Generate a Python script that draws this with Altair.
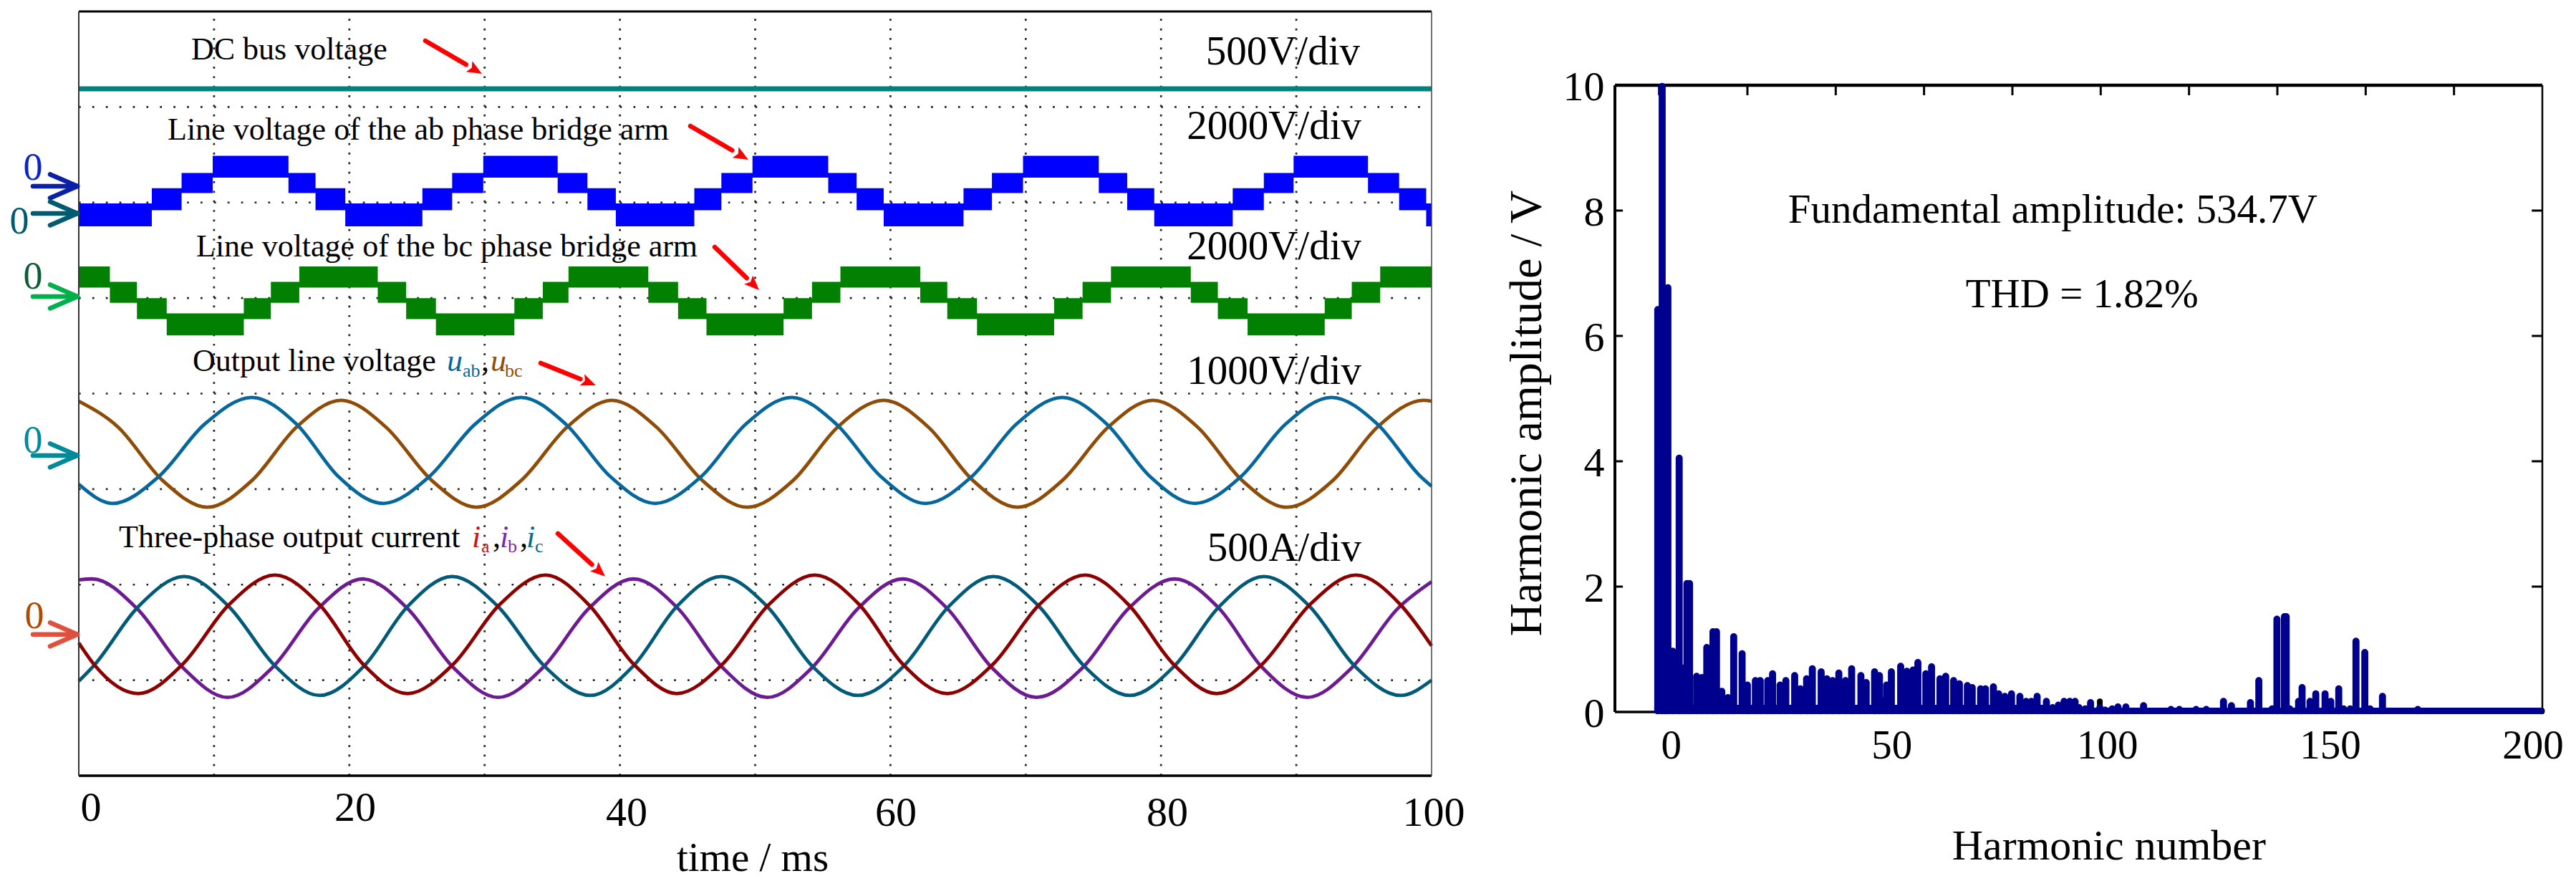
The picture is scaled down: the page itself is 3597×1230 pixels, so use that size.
import altair as alt
import pandas as pd

FONT = "Liberation Serif"

# ---------- left panel data: time in ms, vertical position in scope divisions ----------
ab_t = [0,5.4,7.6,9.9,15.5,17.5,19.7,25.4,27.6,29.9,35.4,37.6,39.7,45.5,47.5,49.8,55.4,57.5,59.5,65.4,67.5,69.8,75.4,77.5,79.5,85.3,87.6,89.8,95.3,97.6,99.6,100]
ab_level = [0,1,2,3,2,1,0,1,2,3,2,1,0,1,2,3,2,1,0,1,2,3,2,1,0,1,2,3,2,1,0,0]
ab_top = [5.99,6.15,6.31,6.49]
ab_bot = [5.75,5.92,6.10,6.26]

bc_t = [0,2.3,4.3,6.5,12.2,14.2,16.3,22.1,24.2,26.4,32.2,34.3,36.2,42.1,44.3,46.4,52.1,54.2,56.3,62.2,64.2,66.4,72.1,74.2,76.3,82.2,84.2,86.4,92.1,94.1,96.2,100]
bc_level = [3,2,1,0,1,2,3,2,1,0,1,2,3,2,1,0,1,2,3,2,1,0,1,2,3,2,1,0,1,2,3,3]
bc_top = [4.84,5.00,5.17,5.33]
bc_bot = [4.61,4.78,4.95,5.11]

dc_level = 7.19

uab_t = [0,2.5,5.9,9.3,12.8,16.1,19.2,22.5,25.9,29.3,32.7,36.0,39.3,42.6,46,49.3,52.7,56,59.3,62.6,66,69.3,72.7,76,79.2,82.5,85.9,89.2,92.6,96,99.2,100]
uab_y = [3.05,2.85,3.13,3.68,3.96,3.68,3.13,2.85,3.13,3.68,3.96,3.68,3.13,2.85,3.13,3.68,3.96,3.68,3.13,2.85,3.13,3.68,3.96,3.68,3.13,2.85,3.13,3.68,3.96,3.68,3.13,3.03]

ubc_t = [0,2.9,6.2,9.5,12.8,16.1,19.4,22.7,26.1,29.4,32.7,36.1,39.4,42.7,46.1,49.4,52.8,56.1,59.5,62.8,66.1,69.4,72.7,76.1,79.4,82.7,86,89.3,92.7,96,99.4,100]
ubc_y = [3.92,3.65,3.09,2.81,3.09,3.65,3.93,3.65,3.09,2.81,3.09,3.65,3.93,3.65,3.09,2.81,3.09,3.65,3.93,3.65,3.09,2.81,3.09,3.65,3.93,3.65,3.09,2.81,3.09,3.65,3.93,3.92]

ia_t = [0,1.1,4.4,7.7,11.1,14.5,17.8,21,24.3,27.7,31.1,34.5,37.7,41,44.2,47.6,51,54.4,57.7,60.9,64.2,67.6,71,74.4,77.6,80.9,84.1,87.5,91,94.4,97.7,100]
ia_y = [1.39,1.17,.86,1.17,1.79,2.10,1.79,1.17,.86,1.17,1.79,2.10,1.79,1.17,.86,1.17,1.79,2.10,1.79,1.17,.86,1.17,1.79,2.10,1.79,1.17,.86,1.17,1.79,2.10,1.79,1.36]

ib_t = [0,1,4.3,7.7,11,14.3,17.7,21,24.3,27.7,31,34.3,37.7,41,44.3,47.6,50.9,54.2,57.6,60.9,64.2,67.5,70.8,74.2,77.6,81,84.3,87.5,90.8,94.1,97.5,100]
ib_y = [2.05,2.06,1.75,1.13,.82,1.13,1.75,2.06,1.75,1.13,.82,1.13,1.75,2.06,1.75,1.13,.82,1.13,1.75,2.06,1.75,1.13,.82,1.13,1.75,2.06,1.75,1.13,.82,1.13,1.75,2.03]

ic_t = [0,1.1,4.4,7.8,11.1,14.5,17.8,21.1,24.3,27.6,31,34.4,37.8,41,44.2,47.5,50.9,54.2,57.6,61,64.3,67.6,71,74.3,77.7,81,84.3,87.6,91,94.3,97.7,100]
ic_y = [.99,1.15,1.77,2.085,1.77,1.15,.84,1.15,1.77,2.085,1.77,1.15,.84,1.15,1.77,2.085,1.77,1.15,.84,1.15,1.77,2.085,1.77,1.15,.84,1.15,1.77,2.085,1.77,1.15,.84,1.0]

time_labels = ["0","20","40","60","80","100"]
time_label_px = [128,497,876,1252,1631,2003]
time_label_base = [1146,1146,1153,1153,1153,1153]

# ---------- right panel data: harmonic number and amplitude in volts ----------
h_pos = [-0.3,0.7,1.4,2.0,3.1,4.55,5.5,6.3,6.9,8.5,9.7,10.8,12.2,13.0,14.2,15.6,16.9,18.8,20,21.8,22.9,24.6,25.7,27.4,28.7,30.7,32.0,33.4,34.7,36.7,38.0,39.3,40.7,42.2,43.6,45.7,46.9,48.8,49.9,51.5,52.6,54.7,56.1,57.5,58.6,60.4,61.7,63.6,64.9,66.7,68.0,69.8,70.9,72.8,73.9,75.7,76.9,78.3,79.8,81.7,83.1,84.3,85.6,87.7,89.1,90.4,91.7,93.0,94.2,95.1,96.5,97.7,99.8,101.0,102.6,103.9,105.7,109.7,115.9,117.8,121.6,123.9,127.8,129.6,133.9,135.8,138.8,139.9,141.6,142.0,142.8,144.8,145.6,147.4,148.7,150.8,152.1,153.9,155.0,156.5,157.8,159.8,161.0,163.8,171.8]
h_amp = [6.47,10.03,6.5,6.82,1.02,4.1,0.75,2.1,2.1,0.62,0.6,1.08,1.33,1.33,0.38,0.28,1.25,0.98,0.48,0.55,0.55,0.55,0.66,0.48,0.55,0.63,0.42,0.58,0.74,0.69,0.58,0.55,0.67,0.55,0.74,0.63,0.52,0.69,0.63,0.48,0.69,0.78,0.70,0.72,0.84,0.66,0.77,0.58,0.62,0.55,0.50,0.47,0.44,0.42,0.42,0.45,0.34,0.3,0.34,0.3,0.22,0.22,0.3,0.22,0.12,0.16,0.22,0.22,0.22,0.12,0.1,0.2,0.12,0.08,0.1,0.13,0.13,0.15,0.09,0.09,0.09,0.09,0.22,0.15,0.2,0.55,0.1,1.53,1.57,1.57,0.1,0.22,0.44,0.22,0.34,0.34,0.22,0.42,0.1,0.1,1.18,1.0,0.1,0.3,0.09]
black_pos = [50.7,99.8,199.9]
black_amp = [0.24,0.22,0.06]
h_labels = ["0","50","100","150","200"]
h_label_px = [2334,2642,2943,3254,3537]

# ---------- reference-pixel to data-unit conversion for annotations ----------
def ms(px): return (px - 111) / 18.89
def dv(py): return 8 - (py - 16) / 133.4
def hn(px): return (px - 2317) / 6.165
def vv(py): return (994 - py) / 87.5

sx = alt.Scale(domain=[0,100], nice=False, zero=False)
sy = alt.Scale(domain=[0,8], nice=False, zero=False)
X = lambda f="x": alt.X(f"{f}:Q", scale=sx, axis=None)
Y = lambda f="y": alt.Y(f"{f}:Q", scale=sy, axis=None)

def ltxt(rows, size, align="left", style="normal"):
    df = pd.DataFrame(rows, columns=["s","px","py","c"])
    df["x"] = df.px.map(ms); df["y"] = df.py.map(dv)
    return alt.Chart(df).mark_text(font=FONT, fontSize=size, align=align, baseline="alphabetic", fontStyle=style).encode(
        x=X(), y=Y(), text="s:N", color=alt.Color("c:N", scale=None))

def wave(t, y, col):
    return alt.Chart(pd.DataFrame({"x":t,"y":y})).mark_line(color=col, strokeWidth=4.8, interpolate="monotone").encode(x=X(), y=Y())

def band(t, lev, top, bot, col):
    df = pd.DataFrame({"x":t,"y":[top[i] for i in lev],"y2":[bot[i] for i in lev]})
    return alt.Chart(df).mark_area(color=col, interpolate="step-after", opacity=1).encode(x=X(), y=Y(), y2="y2:Q")

# grid
grid_h = alt.Chart(pd.DataFrame({"y":[1,2,3,4,5,6,7],"x":[0]*7,"x2":[100]*7})).mark_rule(
    color="#222", strokeWidth=2.7, strokeDash=[2.7,16.19]).encode(x=X(), x2="x2:Q", y=Y())
grid_v = alt.Chart(pd.DataFrame({"x":[10,20,30,40,50,60,70,80,90],"y":[8]*9,"y2":[0]*9})).mark_rule(
    color="#222", strokeWidth=2.7, strokeDash=[2.7,10.64], strokeDashOffset=3).encode(x=X(), y=Y(), y2="y2:Q")

# frame
def hline(y, col, w):
    return alt.Chart(pd.DataFrame({"x":[0],"x2":[100],"y":[y]})).mark_rule(color=col, strokeWidth=w).encode(x=X(), x2="x2:Q", y=Y())
def vline(x, col, w):
    return alt.Chart(pd.DataFrame({"x":[x],"y":[0],"y2":[8]})).mark_rule(color=col, strokeWidth=w).encode(x=X(), y=Y(), y2="y2:Q")

dc = alt.Chart(pd.DataFrame({"x":[0],"x2":[100],"y":[dc_level]})).mark_rule(color="#008080", strokeWidth=7).encode(x=X(), x2="x2:Q", y=Y())

# side arrows
arrow_tip_y = [260,298,414,636,886]
arrow_cols = ["#0a20a8","#005a70","#00b04a","#008a9a","#e0503f"]
seg = []
for ty, c in zip(arrow_tip_y, arrow_cols):
    seg += [(ms(47),ms(109),dv(ty),dv(ty),c),(ms(71),ms(109),dv(ty-16.5),dv(ty),c),(ms(71),ms(109),dv(ty+16.5),dv(ty),c)]
side_arrows = alt.Chart(pd.DataFrame(seg, columns=["x","x2","y","y2","c"])).mark_rule(strokeWidth=6.5, strokeCap="round").encode(
    x=X(), x2="x2:Q", y=Y(), y2="y2:Q", color=alt.Color("c:N", scale=None))

# red arrows
red_tail = [(595,57),(965,176),(999,345),(756,507),(780,745)]
red_tip = [(674,103),(1046,223),(1061,405),(833,538),(846,805)]
red_angle = [120,120,134,112,132]
rows = [(ms(a[0]),ms(a[0]+0.72*(b[0]-a[0])),dv(a[1]),dv(a[1]+0.72*(b[1]-a[1]))) for a,b in zip(red_tail,red_tip)]
red_shaft = alt.Chart(pd.DataFrame(rows, columns=["x","x2","y","y2"])).mark_rule(color="#ff0000", strokeWidth=6.5, strokeCap="round").encode(
    x=X(), x2="x2:Q", y=Y(), y2="y2:Q")
red_head = alt.Chart(pd.DataFrame({"x":[ms(b[0]) for b in red_tip],"y":[dv(b[1]) for b in red_tip],"a":red_angle})).mark_point(
    shape="M0,0L-0.42,1L0,0.8L0.42,1Z", filled=True, color="#ff0000", opacity=1, size=1700).encode(
    x=X(), y=Y(), angle=alt.Angle("a:Q", scale=None))

left = alt.layer(
    grid_h, grid_v, dc,
    band(ab_t, ab_level, ab_top, ab_bot, "#0000ff"),
    band(bc_t, bc_level, bc_top, bc_bot, "#018001"),
    wave(ubc_t, ubc_y, "#8f4c06"), wave(uab_t, uab_y, "#05679c"),
    wave(ib_t, ib_y, "#6c1c90"), wave(ic_t, ic_y, "#005a78"), wave(ia_t, ia_y, "#8c0000"),
    hline(8,"#000",3), hline(0,"#000",3.5), vline(0,"#333",2), vline(100,"#444",1.5),
    side_arrows, red_shaft, red_head,
    ltxt([("DC bus voltage",268,83,"#000"),("Line voltage of the ab phase bridge arm",235,195,"#000"),
          ("Line voltage of the bc phase bridge arm",275,358,"#000"),("Output line voltage",270,518,"#000"),
          ("Three-phase output current",167,764,"#000"),(",",673,518,"#000"),(",",689,764,"#000"),(",",727,764,"#000")],44),
    ltxt([("u",625,518,"#05679c"),("u",686,518,"#8f4c06"),("i",660,764,"#d01010"),("i",699,764,"#7a28b0"),("i",736,764,"#007090")],44,style="italic"),
    ltxt([("ab",647,526,"#05679c"),("bc",706,526,"#8f4c06"),("a",673,771,"#d01010"),("b",710,771,"#7a28b0"),("c",748,771,"#007090")],26),
    ltxt([("500V/div",1900,90,"#000"),("2000V/div",1902,194,"#000"),("2000V/div",1902,362,"#000"),("1000V/div",1902,536,"#000"),("500A/div",1902,783,"#000")],57,align="right"),
    ltxt([(s,p,b,"#000") for s,p,b in zip(time_labels,time_label_px,time_label_base)],58,align="center"),
    ltxt([("time  / ms",1052,1216,"#000")],57,align="center"),
    ltxt([("0",47,251,"#0a22d0"),("0",28,326,"#005a70"),("0",47,403,"#0b5e36"),("0",47,632,"#008a9e"),("0",49,877,"#b04a00")],54,align="center"),
).properties(width=1889, height=1067)

# ---------- right panel ----------
rx = alt.Scale(domain=[-10,200], nice=False, zero=False)
ry = alt.Scale(domain=[vv(1083), vv(16)], nice=False, zero=False)
yaxis = alt.Axis(values=[0,2,4,6,8,10], title=None, tickSize=0, domain=False, grid=False,
                 labelFont=FONT, labelFontSize=58, labelColor="#000", labelPadding=15, labelOffset=3,
                 labelOverlap=False, labelBound=False, labelFlush=False)
RX = lambda f="x": alt.X(f"{f}:Q", scale=rx, axis=None)
RY = lambda f="y": alt.Y(f"{f}:Q", scale=ry, axis=yaxis)
CAP = 0.05
BLUE = "#00008f"

def rtxt(rows, size, align="left", angle=0):
    df = pd.DataFrame(rows, columns=["s","px","py"])
    df["x"] = df.px.map(hn); df["y"] = df.py.map(vv)
    return alt.Chart(df).mark_text(font=FONT, fontSize=size, align=align, baseline="alphabetic", angle=angle, color="#000").encode(
        x=RX(), y=RY(), text="s:N")

left_frame = alt.Chart(pd.DataFrame({"x":[-10],"y":[0],"y2":[10]})).mark_rule(color="#000", strokeWidth=4).encode(x=RX(), y=RY(), y2="y2:Q")
right_frame = alt.Chart(pd.DataFrame({"x":[200],"y":[0],"y2":[10]})).mark_rule(color="#000", strokeWidth=2.5).encode(x=RX(), y=RY(), y2="y2:Q")
top_frame = alt.Chart(pd.DataFrame({"x":[-10],"x2":[200],"y":[10]})).mark_rule(color="#000", strokeWidth=4.5).encode(x=RX(), x2="x2:Q", y=RY())
bot_frame = alt.Chart(pd.DataFrame({"x":[-10],"x2":[200],"y":[0]})).mark_rule(color="#000", strokeWidth=3.5).encode(x=RX(), x2="x2:Q", y=RY())
top_ticks = alt.Chart(pd.DataFrame({"x":list(range(0,200,20)),"y":[10]*10,"y2":[9.84]*10})).mark_rule(color="#000", strokeWidth=3).encode(x=RX(), y=RY(), y2="y2:Q")
ltick = alt.Chart(pd.DataFrame({"x":[-10]*4,"x2":[-8.2]*4,"y":[2,4,6,8]})).mark_rule(color="#000", strokeWidth=3).encode(x=RX(), x2="x2:Q", y=RY())
rtick = alt.Chart(pd.DataFrame({"x":[197.6]*4,"x2":[200]*4,"y":[2,4,6,8]})).mark_rule(color="#000", strokeWidth=3).encode(x=RX(), x2="x2:Q", y=RY())

black = alt.Chart(pd.DataFrame({"x":black_pos,"y":[a-CAP for a in black_amp],"y2":[0.02]*3})).mark_rule(color="#000", strokeWidth=8, strokeCap="round").encode(x=RX(), y=RY(), y2="y2:Q")
stems = alt.Chart(pd.DataFrame({"x":h_pos,"y":[a-CAP for a in h_amp],"y2":[0.02]*len(h_pos)})).mark_rule(color=BLUE, strokeWidth=9.8, strokeCap="round").encode(x=RX(), y=RY(), y2="y2:Q")
floor = alt.Chart(pd.DataFrame({"x":[-0.4,-0.4],"x2":[199.5,87],"y":[0.017,0.063]})).mark_rule(color=BLUE, strokeWidth=9, strokeCap="round").encode(x=RX(), x2="x2:Q", y=RY())

right = alt.layer(
    left_frame, top_frame, bot_frame, right_frame, top_ticks, ltick, rtick, black, floor, stems,
    rtxt([("Fundamental amplitude: 534.7V",2497,311),("THD = 1.82%",2745,429)],57),
    rtxt([(s,p,1059) for s,p in zip(h_labels,h_label_px)],57,align="center"),
    rtxt([("Harmonic number",2945,1200)],60,align="center"),
    rtxt([("Harmonic amplitude / V",2152,577)],64,align="center",angle=270),
).properties(width=1295, height=1067)

chart = alt.hconcat(left, right, spacing=54, padding={"left":5,"top":6,"right":0,"bottom":0}).configure_view(stroke=None).properties(background="white")
chart.save("out.html", embed_options={"renderer": "svg", "actions": False})
